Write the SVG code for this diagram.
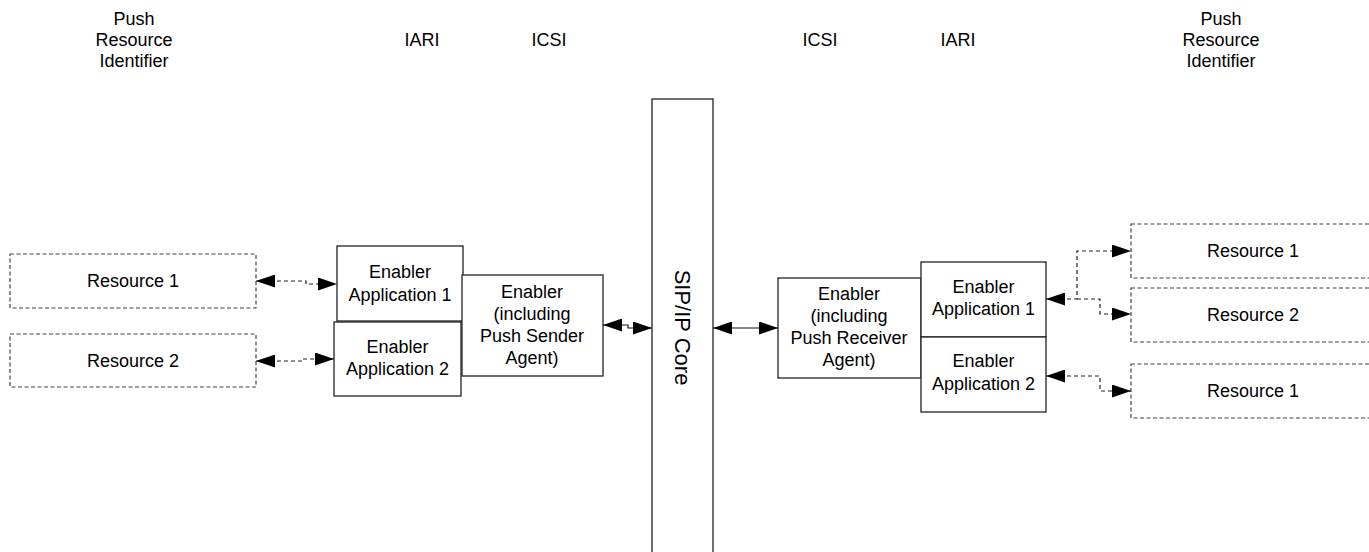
<svg xmlns="http://www.w3.org/2000/svg" width="1369" height="552" viewBox="0 0 1369 552">
<defs>
<style>
text{font-family:"Liberation Sans",Arial,sans-serif;font-size:18px;fill:#000;text-anchor:middle}
.box{fill:#fff;stroke:#222;stroke-width:1.3}
.res{fill:#fff;stroke:#444;stroke-width:1.2;stroke-dasharray:4 2.5}
.sol{fill:none;stroke:#111;stroke-width:1.2;marker-start:url(#ah);marker-end:url(#ah)}
.dsh{fill:none;stroke:#222;stroke-width:1.2;stroke-dasharray:4 3;marker-start:url(#ah);marker-end:url(#ah)}
.dshe{fill:none;stroke:#222;stroke-width:1.2;stroke-dasharray:4 3;marker-end:url(#ah)}
</style>
<marker id="ah" viewBox="0 0 19 13" markerUnits="userSpaceOnUse" markerWidth="19" markerHeight="13" refX="19" refY="6.5" orient="auto-start-reverse">
<path d="M0,0 L19,6.5 L0,13 Z" fill="#000"/>
</marker>
</defs>
<rect width="1369" height="552" fill="#fff"/>

<g id="labels">
<text x="134" y="25">Push</text>
<text x="134" y="46">Resource</text>
<text x="134" y="67">Identifier</text>
<text x="422" y="46">IARI</text>
<text x="549" y="46">ICSI</text>
<text x="820" y="46">ICSI</text>
<text x="958" y="46">IARI</text>
<text x="1221" y="25">Push</text>
<text x="1221" y="46">Resource</text>
<text x="1221" y="67">Identifier</text>
</g>

<g id="sip-core">
<rect class="box" x="652" y="99" width="61" height="470"/>
<text transform="translate(675,327.5) rotate(90)" style="font-size:22px">SIP/IP Core</text>
</g>

<g id="left-resource-1">
<rect class="res" x="10" y="254" width="246" height="54"/>
<text x="133" y="287">Resource 1</text>
</g>
<g id="left-resource-2">
<rect class="res" x="10" y="334" width="246" height="53"/>
<text x="133" y="367">Resource 2</text>
</g>
<g id="left-app-1">
<rect class="box" x="337" y="246" width="126" height="75"/>
<text x="400" y="278">Enabler</text>
<text x="400" y="301">Application 1</text>
</g>
<g id="left-app-2">
<rect class="box" x="334" y="322" width="127" height="74"/>
<text x="397.5" y="353">Enabler</text>
<text x="397.5" y="375">Application 2</text>
</g>
<g id="sender-enabler">
<rect class="box" x="462" y="275" width="141" height="101"/>
<text x="532" y="298">Enabler</text>
<text x="532" y="320">(including</text>
<text x="532" y="342">Push Sender</text>
<text x="532" y="364">Agent)</text>
</g>

<g id="receiver-enabler">
<rect class="box" x="778" y="278" width="143" height="100"/>
<text x="849" y="300">Enabler</text>
<text x="849" y="322">(including</text>
<text x="849" y="344">Push Receiver</text>
<text x="849" y="366">Agent)</text>
</g>
<g id="right-app-1">
<rect class="box" x="921" y="262" width="125" height="75"/>
<text x="983.5" y="293">Enabler</text>
<text x="983.5" y="315">Application 1</text>
</g>
<g id="right-app-2">
<rect class="box" x="921" y="337" width="125" height="75"/>
<text x="983.5" y="367">Enabler</text>
<text x="983.5" y="390">Application 2</text>
</g>
<g id="right-resource-1">
<rect class="res" x="1131" y="224" width="246" height="54"/>
<text x="1253" y="257">Resource 1</text>
</g>
<g id="right-resource-2">
<rect class="res" x="1131" y="288" width="246" height="54"/>
<text x="1253" y="321">Resource 2</text>
</g>
<g id="right-resource-3">
<rect class="res" x="1131" y="364" width="246" height="54"/>
<text x="1253" y="397">Resource 1</text>
</g>

<g id="connectors">
<path class="dsh" d="M256,281 H306 V284 H337"/>
<path class="dsh" d="M256,361 H303 V359 H334"/>
<path class="sol" d="M603,325 H628 V328 H652"/>
<path class="sol" d="M713,328 H778"/>
<path class="dsh" d="M1046,299 H1077 V251 H1131"/>
<path class="dshe" d="M1077,299 H1100 V314 H1131"/>
<path class="dsh" d="M1046,376 H1100 V391 H1131"/>
</g>
</svg>
